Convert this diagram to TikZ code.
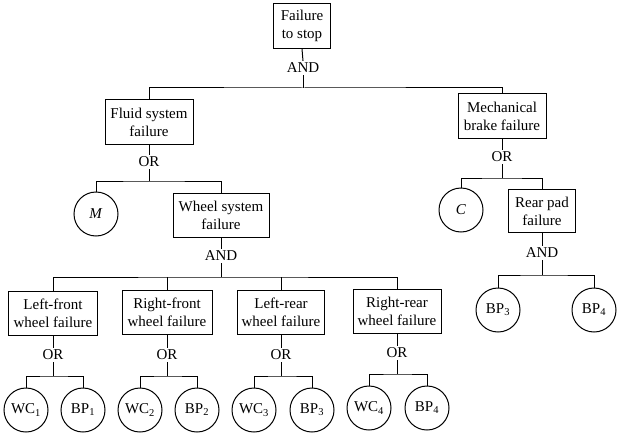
\documentclass[tikz,border=0pt]{standalone}
\usepackage{fontspec}
\setmainfont{Liberation Serif}
\begin{document}
\begin{tikzpicture}[x=1pt,y=-1pt,
  every node/.style={font=\fontsize{15}{18}\selectfont},
  event/.style={draw, line width=1pt, align=center, inner sep=0pt, minimum height=44pt},
  basic/.style={draw, circle, line width=1pt, inner sep=0pt, minimum size=44pt},
  gate/.style={inner sep=2pt},
  link/.style={line width=1pt}]
\useasboundingbox (0,0) rectangle (620,441);

% top event
\node[event, minimum width=57pt, minimum height=45pt] (top) at (302,26) {Failure\\to stop};
\node[gate] (g1) at (303,68) {AND};
\coordinate (j1) at (303,88);

% fluid system branch
\node[event, minimum width=88pt] (fluid) at (149,122) {Fluid system\\failure};
\node[gate] (g2) at (149,162) {OR};
\coordinate (j2) at (149,181);
\node[basic] (M) at (96,214) {\textit{M}};
\node[event, minimum width=96pt] (wheel) at (221,215) {Wheel system\\failure};
\node[gate] (g3) at (221,256) {AND};
\coordinate (j3) at (221,277);

% individual wheels
\node[event, minimum width=89pt] (lf) at (53,313) {Left-front\\wheel failure};
\node[event, minimum width=90pt] (rf) at (167,312) {Right-front\\wheel failure};
\node[event, minimum width=87pt] (lr) at (281,312) {Left-rear\\wheel failure};
\node[event, minimum width=88pt] (rr) at (397,311) {Right-rear\\wheel failure};

\node[gate] (g4) at (53,355) {OR};
\node[gate] (g5) at (167,355) {OR};
\node[gate] (g6) at (281,355) {OR};
\node[gate] (g7) at (397,353) {OR};
\coordinate (j4) at (53,376);
\coordinate (j5) at (167,376);
\coordinate (j6) at (281,376);
\coordinate (j7) at (397,374);

\node[basic] (wc1) at (26,410) {WC\textsubscript{1}};
\node[basic] (bp1) at (83,410) {BP\textsubscript{1}};
\node[basic] (wc2) at (140,410) {WC\textsubscript{2}};
\node[basic] (bp2) at (197,410) {BP\textsubscript{2}};
\node[basic] (wc3) at (254,410) {WC\textsubscript{3}};
\node[basic] (bp3) at (312,410) {BP\textsubscript{3}};
\node[basic] (wc4) at (369,408) {WC\textsubscript{4}};
\node[basic] (bp4) at (427,408) {BP\textsubscript{4}};

% mechanical branch
\node[event, minimum width=88pt] (mech) at (502,116) {Mechanical\\brake failure};
\node[gate] (g8) at (502,157) {OR};
\coordinate (j8) at (502,178);
\node[basic] (C) at (461,210) {\textit{C}};
\node[event, minimum width=67pt, minimum height=43pt] (rear) at (542,211) {Rear pad\\failure};
\node[gate] (g9) at (542,253) {AND};
\coordinate (j9) at (542,275);
\node[basic] (rbp3) at (498,310) {BP\textsubscript{3}};
\node[basic] (rbp4) at (594,310) {BP\textsubscript{4}};

% connectors
\draw[link] (top.south) -- (g1.north);
\draw[link] (g1.south) -- (j1);
\draw[link] (fluid.north) |- (j1) -| (mech.north);

\draw[link] (fluid.south) -- (g2.north);
\draw[link] (g2.south) -- (j2);
\draw[link] (M.north) |- (j2) -| (wheel.north);

\draw[link] (wheel.south) -- (g3.north);
\draw[link] (g3.south) -- (j3);
\draw[link] (lf.north) |- (j3) -| (rr.north);
\draw[link] (rf.north) -- (rf.north |- j3);
\draw[link] (lr.north) -- (lr.north |- j3);

\draw[link] (lf.south) -- (g4.north);
\draw[link] (g4.south) -- (j4);
\draw[link] (wc1.north) |- (j4) -| (bp1.north);
\draw[link] (rf.south) -- (g5.north);
\draw[link] (g5.south) -- (j5);
\draw[link] (wc2.north) |- (j5) -| (bp2.north);
\draw[link] (lr.south) -- (g6.north);
\draw[link] (g6.south) -- (j6);
\draw[link] (wc3.north) |- (j6) -| (bp3.north);
\draw[link] (rr.south) -- (g7.north);
\draw[link] (g7.south) -- (j7);
\draw[link] (wc4.north) |- (j7) -| (bp4.north);

\draw[link] (mech.south) -- (g8.north);
\draw[link] (g8.south) -- (j8);
\draw[link] (C.north) |- (j8) -| (rear.north);
\draw[link] (rear.south) -- (g9.north);
\draw[link] (g9.south) -- (j9);
\draw[link] (rbp3.north) |- (j9) -| (rbp4.north);
\end{tikzpicture}
\end{document}
